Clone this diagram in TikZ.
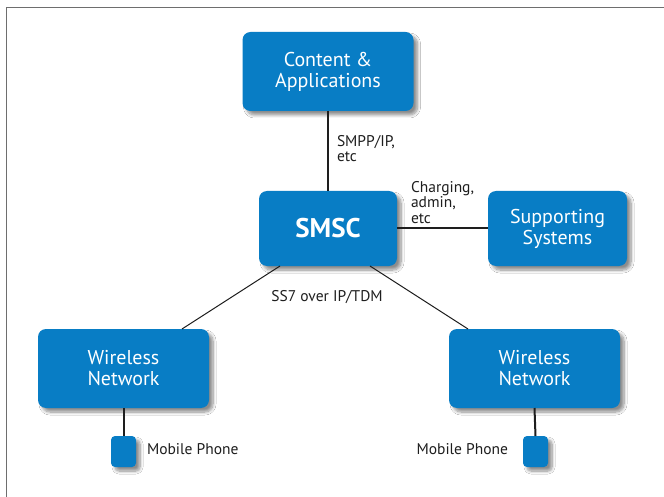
\documentclass[tikz,border=0pt]{standalone}
\usepackage{fontspec}
\setmainfont{PT Sans}
\usetikzlibrary{shadows.blur,calc}
\definecolor{iblue}{RGB}{8,125,197}
\definecolor{frame}{RGB}{110,110,110}
\definecolor{ink}{RGB}{30,30,30}
\begin{document}
\begin{tikzpicture}[x=1pt,y=-1pt,
  box/.style={fill=iblue, rounded corners=8pt, inner sep=0pt, outer sep=0pt,
    text=white, align=center, font=\fontsize{20}{21}\selectfont,
    blur shadow={shadow xshift=4pt, shadow yshift=-4pt, shadow blur steps=8, shadow opacity=45, shadow blur radius=3pt}},
  phone/.style={box, rounded corners=4pt, minimum width=25pt, minimum height=31pt},
  lbl/.style={inner sep=0pt, outer sep=0pt, text=ink, align=left, font=\fontsize{15.5}{15.5}\selectfont},
  thick link/.style={draw=ink, line width=2pt},
  thin link/.style={draw=ink, line width=1pt}]
\useasboundingbox (0,0) rectangle (664,497);
\fill[white] (0,0) rectangle (664,497);
\draw[frame, line width=1.6pt] (6.5,497) -- (6.5,7.5) -- (664,7.5);

\node[box, minimum width=171pt, minimum height=79pt] (content) at (328,71.5) {Content \&\\Applications};
\node[box, minimum width=138pt, minimum height=75pt, font=\fontsize{27}{28}\bfseries] (smsc) at (328,228.5) {SMSC};
\node[box, minimum width=139pt, minimum height=75pt] (supp) at (557.5,228.5) {Supporting\\Systems};
\node[box, minimum width=171pt, minimum height=79pt] (wl) at (123.5,368.5) {Wireless\\Network};
\node[box, minimum width=171pt, minimum height=79pt] (wr) at (534.5,368.5) {Wireless\\Network};
\node[phone] (pl) at (123.5,451.5) {};
\node[phone] (pr) at (535.5,451.5) {};

\draw[thick link] (content.south) -- (smsc.north);
\draw[thick link] (smsc.east) -- (supp.west);
\draw[thin link] ($(smsc.south)+(-48,0)$) -- ($(wl.north)+(58.5,0)$);
\draw[thin link] ($(smsc.south)+(42,0)$) -- ($(wr.north)+(-66.5,0)$);
\draw[thick link] (wl.south) -- (pl.north);
\draw[thick link] (wr.south) -- (pr.north);

\node[lbl, anchor=north west] (l1) at (337,135) {SMPP/IP,\\etc};
\node[lbl, anchor=north west] (l2) at (411,181) {Charging,\\admin,\\etc};
\node[lbl, anchor=base] (l3) at (327,301) {SS7 over IP/TDM};
\node[lbl, anchor=base west] (l4) at (147,454) {Mobile Phone};
\node[lbl, anchor=base east] (l5) at (508,454) {Mobile Phone};
\end{tikzpicture}
\end{document}
